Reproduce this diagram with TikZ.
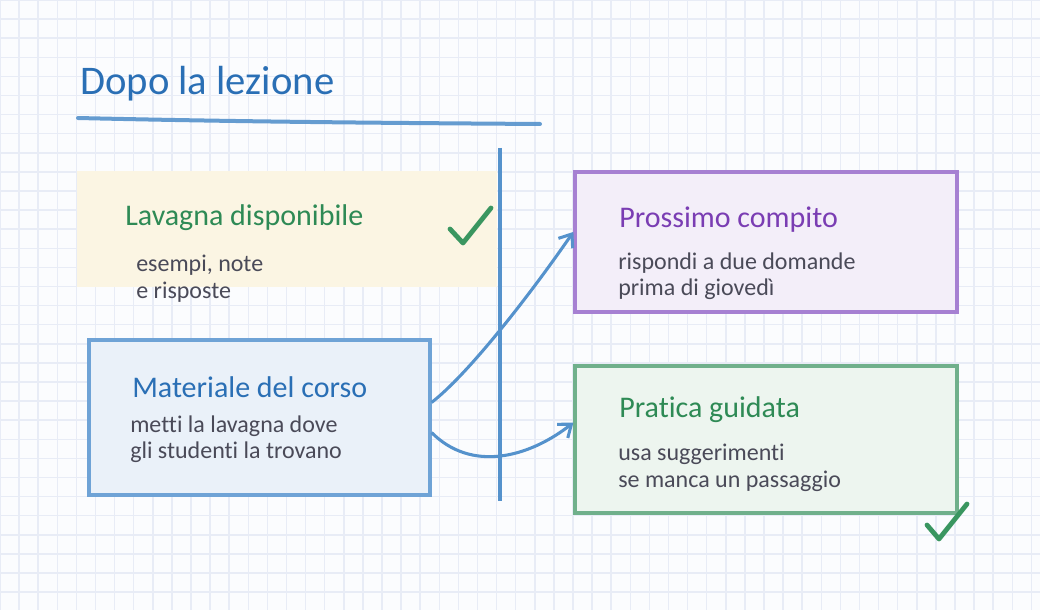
\documentclass[tikz,border=0pt]{standalone}
\usepackage{fontspec}
\setmainfont{Carlito}[Ligatures=NoCommon]
\usetikzlibrary{arrows.meta}

\definecolor{paper}{HTML}{FBFCFE}
\definecolor{gridc}{HTML}{E8ECF6}
\definecolor{inkblue}{HTML}{2A6FB5}
\definecolor{lineblue}{HTML}{5592CC}
\definecolor{inkgreen}{HTML}{2E8A55}
\definecolor{checkgreen}{HTML}{3A9660}
\definecolor{inkpurple}{HTML}{7A3DB3}
\definecolor{bodytext}{HTML}{4A4A58}
\definecolor{lavfill}{HTML}{FBF5E3}
\definecolor{matfill}{HTML}{EAF1F9}
\definecolor{matline}{HTML}{6FA3D6}
\definecolor{profill}{HTML}{F3EEF9}
\definecolor{proline}{HTML}{A680D2}
\definecolor{prafill}{HTML}{EDF5EF}
\definecolor{praline}{HTML}{70B08B}

\begin{document}
\begin{tikzpicture}[x=0.75pt,y=-0.75pt]
	\tikzstyle{card} = [rectangle,line width=2.4pt,inner sep=0pt]
	\tikzstyle{heading} = [anchor=base west,inner sep=0pt,font=\fontsize{22.5}{26}\selectfont]
	\tikzstyle{body} = [anchor=base west,inner sep=0pt,text=bodytext,font=\fontsize{18}{21}\selectfont]
	\tikzstyle{link} = [lineblue,line width=2.3pt,-{Straight Barb[length=8.5pt,width=13pt,line width=2.3pt]}]
	\tikzstyle{tick} = [checkgreen,line width=3.6pt,line cap=round,line join=round]
	% paper and grid
	\fill[paper] (0,0) rectangle (1040,610);
	\useasboundingbox (0,0) rectangle (1040,610);
	\foreach \i in {0,...,54}
		\draw[gridc,line width=1.1pt] (\i*19.1,0) -- (\i*19.1,610);
	\foreach \j in {0,...,32}
		\draw[gridc,line width=1.1pt] (0,\j*19.1) -- (1040,\j*19.1);
	% title
	\node[anchor=base west,inner sep=0pt,text=inkblue,font=\fontsize{30.5}{36}\selectfont] (title) at (80,95) {Dopo la lezione};
	\draw[lineblue,opacity=.9,line width=3pt,line cap=round] (78,118) .. controls (250,122) and (400,123) .. (540,124);
	% board strip
	\node[card,fill=lavfill,minimum width=315pt,minimum height=87pt] (lav) at (287,229) {};
	\node[heading,text=inkgreen] (lavT) at (125,225) {Lavagna disponibile};
	\node[body] (lavA) at (136,271) {esempi, note};
	\node[body] (lavB) at (136,298) {e risposte};
	\draw[tick] (450,229) -- (463,243) -- (491,208);
	% divider
	\draw[lineblue,line width=2.3pt] (500,148) -- (500,501);
	% course material
	\node[card,draw=matline,fill=matfill,minimum width=255.75pt,minimum height=116.25pt] (mat) at (259.5,417.5) {};
	\node[heading,text=inkblue] (matT) at (132,397) {Materiale del corso};
	\node[body] (matA) at (130,432) {metti la lavagna dove};
	\node[body] (matB) at (130,458) {gli studenti la trovano};
	% next task
	\node[card,draw=proline,fill=profill,minimum width=286.5pt,minimum height=105pt] (pro) at (766,242) {};
	\node[heading,text=inkpurple] (proT) at (619,227) {Prossimo compito};
	\node[body] (proA) at (618,269) {rispondi a due domande};
	\node[body] (proB) at (618,295) {prima di giovedì};
	% guided practice
	\node[card,draw=praline,fill=prafill,minimum width=286.5pt,minimum height=110.25pt] (pra) at (766,439.5) {};
	\node[heading,text=inkgreen] (praT) at (619,417) {Pratica guidata};
	\node[body] (praA) at (618,460) {usa suggerimenti};
	\node[body] (praB) at (618,487) {se manca un passaggio};
	\draw[tick] (927,525) -- (939,539) -- (967,504);
	% connections
	\draw[link] (mat.5) .. controls +(35,-27) and +(-47,68) .. (pro.177);
	\draw[link] (mat.-5) .. controls +(40,40) and +(-45,35) .. (pra.175);
\end{tikzpicture}
\end{document}
